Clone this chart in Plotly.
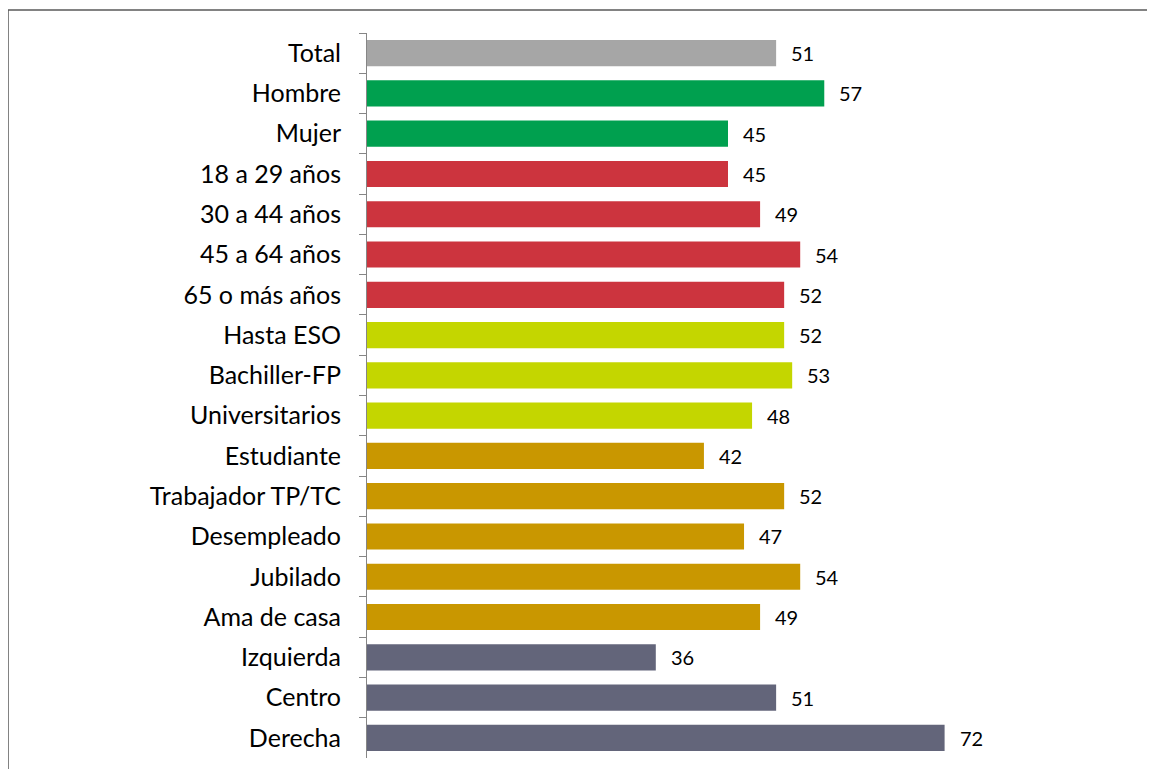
import plotly.graph_objects as go

categories = ["Total", "Hombre", "Mujer", "18 a 29 años", "30 a 44 años", "45 a 64 años",
              "65 o más años", "Hasta ESO", "Bachiller-FP", "Universitarios", "Estudiante",
              "Trabajador TP/TC", "Desempleado", "Jubilado", "Ama de casa", "Izquierda",
              "Centro", "Derecha"]
values = [51, 57, 45, 45, 49, 54, 52, 52, 53, 48, 42, 52, 47, 54, 49, 36, 51, 72]
groups = ["total", "sexo", "sexo", "edad", "edad", "edad", "edad", "estudios", "estudios",
          "estudios", "ocup", "ocup", "ocup", "ocup", "ocup", "ideo", "ideo", "ideo"]
group_colors = {"total": "#A6A6A6", "sexo": "#00A04F", "edad": "#CC343E",
                "estudios": "#C4D600", "ocup": "#C99700", "ideo": "#63657A"}

FONT = "Lato, Calibri, Carlito, sans-serif"

fig = go.Figure(go.Bar(
    x=values, y=categories, orientation="h",
    marker=dict(color=[group_colors[g] for g in groups], line=dict(width=0)),
    width=0.65, hoverinfo="x+y",
))

for c, v in zip(categories, values):
    fig.add_annotation(x=v, y=c, text=str(v), showarrow=False, xanchor="left",
                       xshift=13, font=dict(family=FONT, size=20, color="#000000"))

# page body has an 8px default margin, so the figure is offset by 8px
OFF = 8
W, H = 1155, 769
L, R, T, B = 367 - OFF, 1089 - OFF, 33 - OFF, 758 - OFF
pw, ph = R - L, B - T

fig.update_layout(
    width=W, height=H,
    margin=dict(l=L, r=W - R, t=T, b=H - B),
    plot_bgcolor="white", paper_bgcolor="white",
    showlegend=False,
    font=dict(family=FONT, color="#000000"),
    xaxis=dict(range=[0, 90], visible=False, showgrid=False, zeroline=False),
    yaxis=dict(autorange="reversed", showline=True, linecolor="#868686", linewidth=1,
               ticks="outside", ticklen=7, tickcolor="#868686", tickson="boundaries",
               tickfont=dict(family=FONT, size=25, color="#000000"),
               ticklabelstandoff=20, showgrid=False),
    bargap=0.35,
    shapes=[dict(type="rect", xref="paper", yref="paper",
                 x0=(8 - OFF - L) / pw, x1=(1170 - L) / pw,
                 y0=-(790 - B) / ph, y1=1 + (T - (10 - OFF)) / ph,
                 line=dict(color="#595959", width=1.5), fillcolor="rgba(0,0,0,0)",
                 layer="below")],
)

fig.write_html("out.html")
